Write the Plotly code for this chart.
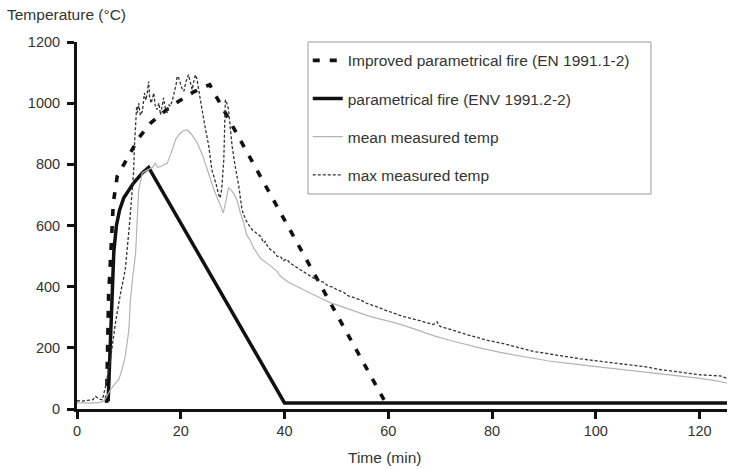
import plotly.graph_objects as go

# Improved parametrical fire (EN 1991.1-2)
imp_t = [5.7, 5.8, 6.1, 6.3, 6.6, 7.0, 7.75, 8.7, 10.0, 11.9, 14.2, 17.0, 19.6, 22.5, 24.5, 25.6, 59.5]
imp_T = [20, 150, 380, 434, 554, 674, 761, 790, 832, 886, 935, 975, 1006, 1037, 1053, 1060, 20]

# parametrical fire (ENV 1991.2-2)
env_t = [6.0, 6.8, 7.1, 7.6, 8.2, 9.0, 10.0, 10.9, 12.6, 13.8, 40.0, 125.3]
env_T = [25, 423, 515, 600, 650, 690, 718, 739, 772, 790, 20, 20]

# mean measured temp
mean_t = [0, 2, 4, 5.2, 6.45, 7.2, 8.05, 8.7, 9.3, 10.0, 10.3, 10.8, 11.3, 11.6, 11.9, 12.6,
          13.3, 14.0, 14.6, 15.1, 15.5, 16.1, 16.8, 17.4, 18.2, 19.0, 19.8, 20.5, 21.2, 22.0,
          22.6, 23.2, 24.2, 25.1, 25.8, 26.4, 27.3, 27.8, 28.2, 28.7, 29.2, 29.6, 30.2, 30.9,
          31.5, 32.1, 32.7, 33.4, 34.1, 34.7, 35.4, 36.6, 37.6, 38.6, 39.2, 41.0, 43.1, 45.0,
          46.9, 48.8, 50.8, 52.7, 54.6, 56.6, 58.5, 61.7, 65.0, 68.7, 72.0, 75.2, 78.0, 81.6,
          85.0, 88.0, 91.0, 94.4, 97.5, 100.9, 104.0, 107.3, 110.5, 113.7, 117.0, 120.1, 123.0, 125.3]
mean_T = [20, 19, 20, 25, 63, 80, 96, 130, 172, 259, 357, 440, 510, 619, 717, 772,
          780, 785, 790, 804, 790, 793, 800, 804, 840, 881, 900, 910, 913, 900,
          885, 870, 830, 783, 750, 717, 680, 655, 641, 680, 723, 718, 705, 680,
          640, 610, 570, 550, 525, 510, 492, 477, 462, 450, 434, 412, 395, 378,
          363, 348, 336, 323, 312, 302, 294, 280, 262, 240, 224, 210, 198, 185,
          174, 165, 157, 150, 143, 137, 131, 125, 119, 113, 107, 100, 93, 85]

# max measured temp
max_t = [0, 1, 2, 3, 3.6, 4.2, 4.9, 5.5, 6.45, 7.4, 8.4, 9.3, 10.2, 10.9, 11.1, 11.3, 11.5, 11.6,
         11.9, 12.2, 12.6, 13.0, 13.3, 13.6, 13.8, 14.0, 14.3, 14.8, 15.1, 15.4, 15.8, 16.1,
         16.4, 16.7, 17.0, 17.4, 17.7, 18.0, 18.4, 18.7, 19.1, 19.3, 19.6, 20.0, 20.3, 20.6,
         21.0, 21.5, 21.8, 22.2, 22.5, 22.8, 23.1, 23.5, 24.1, 24.8, 25.4, 26.0, 26.4, 26.9,
         27.3, 27.6, 27.9, 28.3, 28.6, 28.9, 29.2, 29.4, 29.9, 30.5, 31.2, 31.8, 32.5, 33.2,
         33.8, 34.6, 35.4, 36.0, 36.3, 36.8, 37.3, 37.9, 38.6, 39.2, 39.8, 40.4, 41.1, 41.7,
         42.4, 43.1, 43.7, 44.4, 45.0, 45.6, 46.3, 46.9, 47.5, 48.2, 48.8, 49.4, 50.1, 50.8,
         51.4, 52.0, 52.7, 53.3, 54.0, 54.6, 55.2, 55.9, 56.6, 57.2, 57.8, 58.5, 59.1, 60.0,
         61.0, 61.7, 63.0, 64.5, 66.0, 67.5, 68.7, 69.4, 70.0, 72.0, 73.5, 75.2, 77.0, 79.0,
         81.6, 84.0, 86.0, 88.0, 90.0, 92.0, 94.4, 97.0, 99.0, 100.9, 103.0, 105.0, 107.3,
         110.0, 112.0, 113.7, 116.0, 118.0, 120.1, 122.0, 124.0, 125.3]
max_T = [27, 26, 28, 30, 41, 33, 30, 74, 161, 281, 379, 455, 619, 772, 870, 946, 990, 968,
         1000, 960, 973, 1033, 1010, 1040, 1071, 1020, 1000, 1033, 990, 979, 1000, 962,
         985, 1017, 985, 968, 995, 990, 1010, 1033, 1060, 1088, 1082, 1060, 1045, 1039,
         1070, 1093, 1075, 1044, 1070, 1093, 1080, 1033, 979, 913, 859, 782, 761, 730,
         701, 690, 720, 815, 1011, 1000, 980, 946, 859, 793, 728, 652, 619, 600,
         586, 575, 564, 543, 548, 530, 521, 515, 499, 499, 485, 490, 477, 470,
         462, 455, 448, 440, 434, 428, 422, 417, 415, 405, 401, 398, 390, 385,
         382, 372, 368, 366, 360, 357, 352, 345, 341, 338, 333, 330, 325, 320,
         314, 308, 302, 296, 288, 282, 276, 285, 270, 260, 251, 243, 235, 225,
         216, 205, 196, 188, 183, 177, 172, 164, 160, 156, 152, 148, 145,
         137, 130, 126, 120, 116, 112, 110, 108, 100]

x_ticks = [0, 20, 40, 60, 80, 100, 120]
y_ticks = [0, 200, 400, 600, 800, 1000, 1200]

FONT = "Liberation Sans, Arial, sans-serif"
TXT = "#333333"
AX = "#111111"
X_RANGE = [0, 125.3]
Y_RANGE = [0, 1200]

fig = go.Figure()
fig.add_trace(go.Scatter(x=imp_t, y=imp_T, mode="lines", name="Improved parametrical fire (EN 1991.1-2)",
                         line=dict(color="#111111", width=3.6, dash="7px,10px"), legendgroup="a"))
fig.add_trace(go.Scatter(x=env_t, y=env_T, mode="lines", name="parametrical fire (ENV 1991.2-2)",
                         line=dict(color="#111111", width=3.5), legendgroup="b"))
fig.add_trace(go.Scatter(x=mean_t, y=mean_T, mode="lines", name="mean measured temp",
                         line=dict(color="#b4b4b4", width=1.2), legendgroup="c"))
fig.add_trace(go.Scatter(x=max_t, y=max_T, mode="lines", name="max measured temp",
                         line=dict(color="#333333", width=1.3, dash="3px,2px"), legendgroup="d"))

axis_common = dict(showgrid=False, zeroline=False, showline=True, linecolor=AX, linewidth=3,
                   tickcolor=AX, tickwidth=3, ticklen=7)

fig.update_layout(
    width=732, height=469,
    margin=dict(l=77, r=5, t=42, b=60),
    paper_bgcolor="white", plot_bgcolor="white",
    font=dict(family=FONT, size=15.5, color=TXT),
    showlegend=True,
    legend=dict(x=0.355, y=0.995, xanchor="left", yanchor="top",
                borderwidth=0, bgcolor="rgba(0,0,0,0)",
                font=dict(family=FONT, size=15.5, color=TXT),
                traceorder="grouped", tracegroupgap=15, itemwidth=30),
    xaxis=dict(range=X_RANGE, tickvals=x_ticks, ticks="outside",
               tickfont=dict(family=FONT, size=14.5, color=TXT), **axis_common),
    yaxis=dict(range=Y_RANGE, tickvals=y_ticks, ticks="outside", ticklabelstandoff=4,
               tickfont=dict(family=FONT, size=14.5, color=TXT), **axis_common),
    xaxis2=dict(range=X_RANGE, tickvals=x_ticks, ticks="inside", overlaying="x", anchor="y",
                side="bottom", showticklabels=False, **axis_common),
    yaxis2=dict(range=Y_RANGE, tickvals=y_ticks, ticks="inside", overlaying="y", anchor="x",
                side="left", showticklabels=False, **axis_common),
    shapes=[
        dict(type="rect", xref="paper", yref="paper", x0=0.3554, x1=0.883, y0=0.5858, y1=1.0,
             fillcolor="white", line=dict(color="#9a9a9a", width=1), layer="above"),
    ],
    annotations=[
        dict(text="Temperature (°C)", xref="paper", yref="paper", x=-0.111, y=1.074,
             xanchor="left", yanchor="middle", showarrow=False, font=dict(family=FONT, size=15.5, color=TXT)),
        dict(text="Time (min)", xref="paper", yref="paper", x=0.473, y=-0.133,
             xanchor="center", yanchor="middle", showarrow=False, font=dict(family=FONT, size=15.5, color=TXT)),
    ],
)

fig.write_html("out.html", config={"displayModeBar": False},
               post_script="document.body.style.margin='0px';")
